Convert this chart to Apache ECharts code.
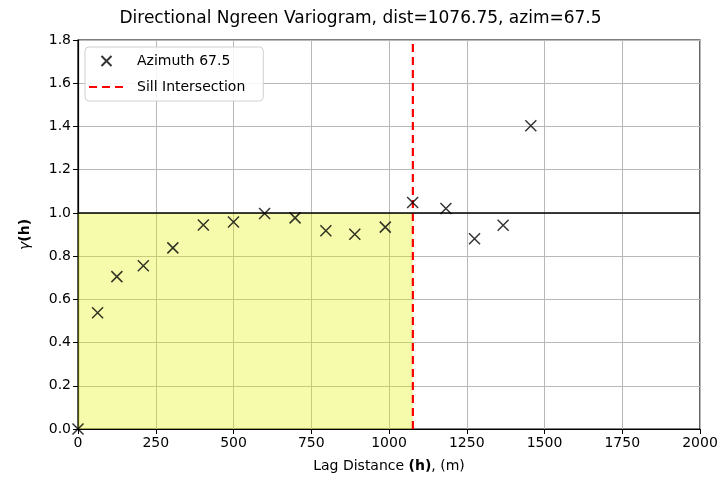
<!DOCTYPE html>
<html>
<head>
<meta charset="utf-8">
<script src="https://cdn.jsdelivr.net/npm/echarts@6/dist/echarts.min.js"></script>
<style>
  html, body { margin: 0; padding: 0; background: #fff; }
  #chart { width: 721px; height: 481px; }
</style>
</head>
<body>
<div id="chart"></div>
<script>
// Experimental variogram points along azimuth 67.5
const lagDistances = [0, 63, 125, 210, 305, 403, 500, 600, 698, 797, 890, 988, 1076, 1183, 1275, 1367, 1456];
const gammaValues  = [0.0, 0.538, 0.705, 0.755, 0.838, 0.944, 0.958, 0.997, 0.977, 0.917, 0.901, 0.934, 1.048, 1.020, 0.880, 0.943, 1.403];

// Sill and the lag at which the fitted curve reaches it
const sill = 1.0;
const sillRange = 1076.75;
const azimuth = 67.5;

const xTicks = { min: 0, max: 2000, interval: 250 };
const yTicks = { min: 0, max: 1.8, interval: 0.2 };

const FONT = 'DejaVu Sans';
const crossPath = 'path://M0,0L10,10M10,0L0,10';

const chart = echarts.init(document.getElementById('chart'), null, { renderer: 'canvas' });

chart.setOption({
  animation: false,
  backgroundColor: '#fff',
  textStyle: { fontFamily: FONT, color: '#000' },
  title: {
    text: 'Directional Ngreen Variogram, dist=' + sillRange + ', azim=' + azimuth,
    left: 'center',
    top: 5,
    textStyle: { fontFamily: FONT, fontSize: 17, fontWeight: 'normal', color: '#000' }
  },
  grid: {
    left: 78, right: 21, top: 40, bottom: 52,
    show: true, borderColor: '#000', borderWidth: 1.2, backgroundColor: 'transparent'
  },
  legend: {
    orient: 'vertical',
    left: 85, top: 47,
    padding: [7, 18, 7, 3],
    itemGap: 12,
    itemWidth: 35,
    itemHeight: 10,
    backgroundColor: 'rgba(255,255,255,0.85)',
    borderColor: '#d0d0d0',
    borderWidth: 1,
    borderRadius: 4,
    textStyle: { fontFamily: FONT, fontSize: 14, color: '#000', padding: [0, 0, 0, 8] },
    data: [
      { name: 'Azimuth ' + azimuth },
      { name: 'Sill Intersection', itemStyle: { color: 'transparent', borderWidth: 0 } }
    ]
  },
  xAxis: {
    type: 'value',
    min: xTicks.min, max: xTicks.max, interval: xTicks.interval,
    name: 'Lag Distance {b|(h)}, (m)',
    nameLocation: 'middle',
    nameGap: 30,
    nameTextStyle: {
      fontFamily: FONT, fontSize: 14, color: '#000',
      rich: { b: { fontFamily: FONT, fontSize: 14, fontWeight: 'bold', color: '#000' } }
    },
    axisLine: { show: true, lineStyle: { color: '#000', width: 1.2 } },
    axisTick: { show: true, length: 5, lineStyle: { color: '#000' } },
    axisLabel: { fontFamily: FONT, fontSize: 14, color: '#000', margin: 7, formatter: v => String(v) },
    splitLine: { show: true, lineStyle: { color: '#b8b8b8', width: 1 } }
  },
  yAxis: {
    type: 'value',
    min: yTicks.min, max: yTicks.max, interval: yTicks.interval,
    name: '{i|γ}{b|(h)}',
    nameLocation: 'middle',
    nameRotate: 90,
    nameGap: 46,
    nameTextStyle: {
      fontFamily: FONT, fontSize: 14, color: '#000',
      rich: {
        i: { fontFamily: FONT, fontSize: 14, fontStyle: 'italic', color: '#000' },
        b: { fontFamily: FONT, fontSize: 14, fontWeight: 'bold', color: '#000' }
      }
    },
    axisLine: { show: true, lineStyle: { color: '#000', width: 1.2 } },
    axisTick: { show: true, length: 5, lineStyle: { color: '#000' } },
    axisLabel: {
      fontFamily: FONT, fontSize: 14, color: '#000', margin: 7,
      formatter: v => v.toFixed(1)
    },
    splitLine: { show: true, lineStyle: { color: '#b8b8b8', width: 1 } }
  },
  series: [
    {
      // Shaded region below the sill up to the intersection lag, plus the sill line
      name: 'sill',
      type: 'line',
      data: [],
      silent: true,
      markArea: {
        silent: true,
        itemStyle: { color: 'rgba(225,243,0,0.33)' },
        data: [[{ coord: [0, 0] }, { coord: [sillRange, sill] }]]
      },
      markLine: {
        silent: true,
        symbol: ['none', 'none'],
        label: { show: false },
        lineStyle: { color: '#000', width: 1.6, type: 'solid' },
        data: [{ yAxis: sill }]
      }
    },
    {
      name: 'Sill Intersection',
      type: 'line',
      symbol: 'none',
      data: [[sillRange, yTicks.min], [sillRange, yTicks.max]],
      lineStyle: { color: '#ff0000', width: 2.2, type: [8, 5] },
      itemStyle: { color: '#ff0000' },
      z: 3
    },
    {
      name: 'Azimuth ' + azimuth,
      type: 'scatter',
      symbol: crossPath,
      symbolSize: 11,
      symbolKeepAspect: true,
      itemStyle: { color: 'transparent', borderColor: '#000', borderWidth: 1.5 },
      data: lagDistances.map((d, i) => [d, gammaValues[i]]),
      z: 4
    }
  ]
});
</script>
</body>
</html>
